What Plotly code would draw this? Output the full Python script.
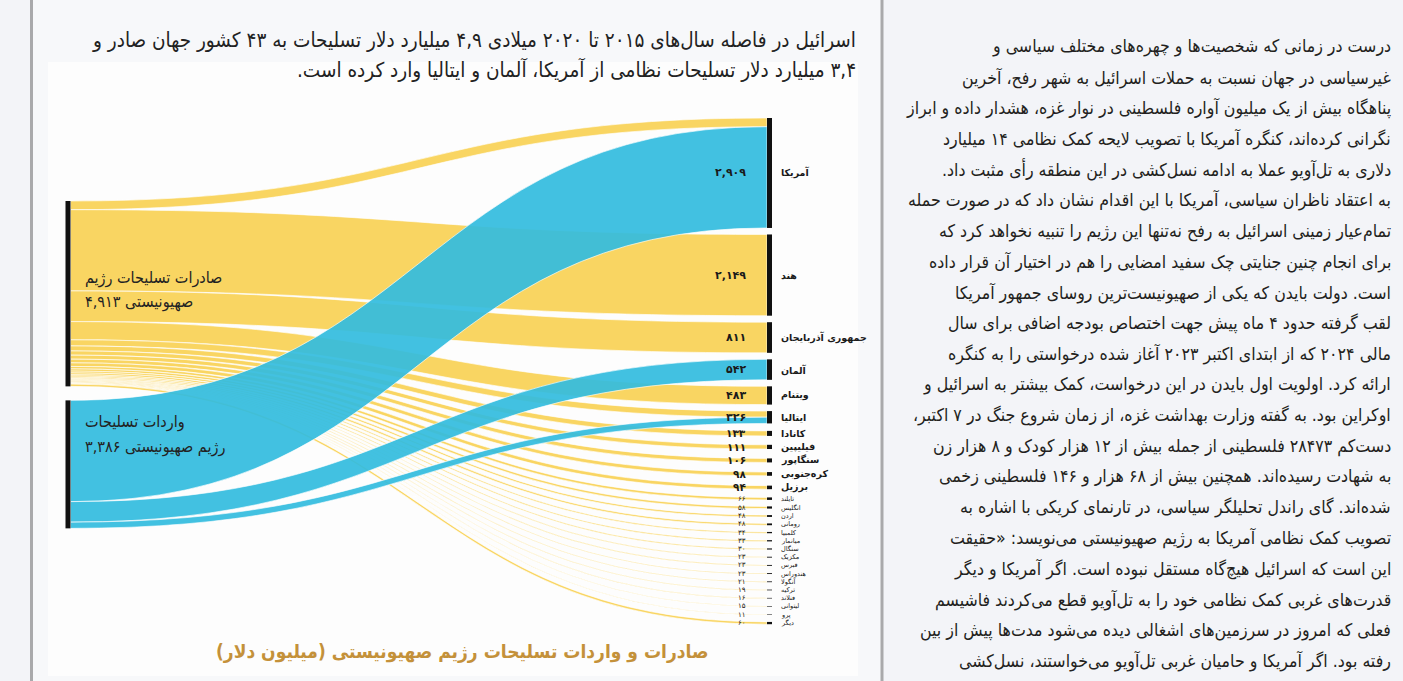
import plotly.graph_objects as go

# ---------------- data ----------------
countries = ["آمریکا", "هند", "جمهوری آذربایجان", "آلمان", "ویتنام", "ایتالیا", "کانادا",
             "فیلیپین", "سنگاپور", "کره‌جنوبی", "برزیل", "تایلند", "انگلیس", "اردن",
             "رومانی", "کلمبیا", "میانمار", "سنگال", "مکزیک", "قبرس", "هندوراس",
             "آنگولا", "ترکیه", "فنلاند", "لیتوانی", "پرو", "دیگر"]
country_totals = [2909, 2149, 811, 542, 483, 326, 133, 111, 106, 98, 94, 66, 58, 48,
                  48, 34, 33, 30, 23, 23, 23, 21, 19, 16, 15, 11, 60]
exports_to = [230, 2149, 811, 0, 483, 161, 133, 111, 106, 98, 94, 66, 58, 48,
              48, 34, 33, 30, 23, 23, 23, 21, 19, 16, 15, 11, 60]
imports_from = [2679, 0, 0, 542, 0, 165, 0, 0, 0, 0, 0, 0, 0, 0,
                0, 0, 0, 0, 0, 0, 0, 0, 0, 0, 0, 0, 0]
source_line1 = ["صادرات تسلیحات رژیم", "واردات تسلیحات"]
source_line2 = ["صهیونیستی", "رژیم صهیونیستی"]
source_totals = [4913, 3386]

header_lines = [
    "اسرائیل در فاصله سال‌های ۲۰۱۵ تا ۲۰۲۰ میلادی ۴,۹ میلیارد دلار تسلیحات به ۴۳ کشور جهان صادر و",
    "۳,۴ میلیارد دلار تسلیحات نظامی از آمریکا، آلمان و ایتالیا وارد کرده است.",
]
chart_title = "صادرات و واردات تسلیحات رژیم صهیونیستی (میلیون دلار)"
body_lines = [
    "درست در زمانی که شخصیت‌ها و چهره‌های مختلف سیاسی و",
    "غیرسیاسی در جهان نسبت به حملات اسرائیل به شهر رفح، آخرین",
    "پناهگاه بیش از یک میلیون آواره فلسطینی در نوار غزه، هشدار داده و ابراز",
    "نگرانی کرده‌اند، کنگره آمریکا با تصویب لایحه کمک نظامی ۱۴ میلیارد",
    "دلاری به تل‌آویو عملا به ادامه نسل‌کشی در این منطقه رأی مثبت داد.",
    "به اعتقاد ناظران سیاسی، آمریکا با این اقدام نشان داد که در صورت حمله",
    "تمام‌عیار زمینی اسرائیل به رفح نه‌تنها این رژیم را تنبیه نخواهد کرد که",
    "برای انجام چنین جنایتی چک سفید امضایی را هم در اختیار آن قرار داده",
    "است. دولت بایدن که یکی از صهیونیست‌ترین روسای جمهور آمریکا",
    "لقب گرفته حدود ۴ ماه پیش جهت اختصاص بودجه اضافی برای سال",
    "مالی ۲۰۲۴ که از ابتدای اکتبر ۲۰۲۳ آغاز شده درخواستی را به کنگره",
    "ارائه کرد. اولویت اول بایدن در این درخواست، کمک بیشتر به اسرائیل و",
    "اوکراین بود. به گفته وزارت بهداشت غزه، از زمان شروع جنگ در ۷ اکتبر،",
    "دست‌کم ۲۸۴۷۳ فلسطینی از جمله بیش از ۱۲ هزار کودک و ۸ هزار زن",
    "به شهادت رسیده‌اند. همچنین بیش از ۶۸ هزار و ۱۴۶ فلسطینی زخمی",
    "شده‌اند. گای راندل تحلیلگر سیاسی، در تارنمای کریکی با اشاره به",
    "تصویب کمک نظامی آمریکا به رژیم صهیونیستی می‌نویسد: «حقیقت",
    "این است که اسرائیل هیچ‌گاه مستقل نبوده است. اگر آمریکا و دیگر",
    "قدرت‌های غربی کمک نظامی خود را به تل‌آویو قطع می‌کردند فاشیسم",
    "فعلی که امروز در سرزمین‌های اشغالی دیده می‌شود مدت‌ها پیش از بین",
    "رفته بود. اگر آمریکا و حامیان غربی تل‌آویو می‌خواستند، نسل‌کشی",
    "این‌چنین در غزه به سرعت متوقف می‌شد.»",
]

# ---------------- helpers ----------------
W, H = 1403, 681
RLM = "\u200f"
FONT = "DejaVu Sans"
FONT_C = "DejaVu Sans Condensed, DejaVu Sans"


def fa(n):
    return f"{n:,}".translate(str.maketrans("0123456789", "۰۱۲۳۴۵۶۷۸۹"))


def rtl(s):
    return RLM + s + RLM


def py(px):  # pixel (from top) -> paper y
    return 1 - px / H


def pxx(px):
    return px / W


# ---------------- sankey geometry ----------------
top_px, bot_px = 118, 619
dom_left_px, dom_right_px = 60, 778
Hd = bot_px - top_px
Wd = dom_right_px - dom_left_px
thick = 5
n_c = len(countries)
node_vals = [e + i for e, i in zip(exports_to, imports_from)]

k = 0.0378                                   # px per million dollars
pad = (Hd - k * sum(node_vals)) / (n_c - 1)  # plotly pad that yields this scale


def size_class(t):
    return "big" if t >= 300 else ("mid" if t >= 90 else "small")


min_slot = {"big": 0, "mid": 13.5, "small": 8.2}
gap = 6.5
right_centers_px = []
cur = 0.0
for v, t in zip(node_vals, country_totals):
    h = v * k
    slot = max(h, min_slot[size_class(t)] - gap)
    right_centers_px.append(cur + slot / 2)
    cur += slot + gap

exp_h = sum(exports_to) * k
imp_h = sum(imports_from) * k
exp_top = 201 - top_px
exp_center = exp_top + exp_h / 2
imp_center = exp_top + exp_h + 14 + imp_h / 2

left_x = (68 - dom_left_px) / Wd
right_x = (769.5 - dom_left_px) / Wd

node_x = [left_x, left_x] + [right_x] * n_c
node_y = [exp_center / Hd, imp_center / Hd] + [c / Hd for c in right_centers_px]

src, tgt, val, col = [], [], [], []
for i, v in enumerate(exports_to):
    if v > 0:
        src.append(0); tgt.append(2 + i); val.append(v)
        col.append("rgba(248,204,64,0.82)")
for i, v in enumerate(imports_from):
    if v > 0:
        src.append(1); tgt.append(2 + i); val.append(v)
        col.append("rgba(50,188,222,0.92)")

fig = go.Figure(go.Sankey(
    arrangement="fixed",
    domain=dict(x=[dom_left_px / W, dom_right_px / W], y=[py(bot_px), py(top_px)]),
    node=dict(pad=pad, thickness=thick, color="#111111",
              line=dict(width=0),
              label=[""] * (2 + n_c), x=node_x, y=node_y,
              hoverinfo="none"),
    link=dict(source=src, target=tgt, value=val, color=col,
              line=dict(color="rgba(255,255,255,0.9)", width=0.7),
              hoverinfo="none"),
))

ann = []
val_size = {"big": 11, "mid": 10.5, "small": 7}
name_size = {"big": 9.5, "mid": 9.5, "small": 6.5}
for i, (name, tot) in enumerate(zip(countries, country_totals)):
    ycen = top_px + right_centers_px[i]
    c = size_class(tot)
    bold = c != "small"
    ann.append(dict(x=pxx(748), y=py(ycen), xref="paper", yref="paper",
                    xanchor="right", yanchor="middle", showarrow=False,
                    text=f"<b>{fa(tot)}</b>" if bold else fa(tot),
                    font=dict(family=FONT, size=val_size[c], color="#1a1a1a")))
    ann.append(dict(x=pxx(779), y=py(ycen), xref="paper", yref="paper",
                    xanchor="left", yanchor="middle", showarrow=False,
                    text=rtl(f"<b>{name}</b>" if bold else name),
                    font=dict(family=FONT, size=name_size[c], color="#1a1a1a")))

# left node labels
left_label_y = [(278, 302), (422, 447)]
for j in range(2):
    ann.append(dict(x=pxx(83), y=py(left_label_y[j][0]), xref="paper", yref="paper",
                    xanchor="left", yanchor="middle", showarrow=False,
                    text=rtl(source_line1[j]),
                    font=dict(family=FONT_C, size=16, color="#222222")))
    ann.append(dict(x=pxx(83), y=py(left_label_y[j][1]), xref="paper", yref="paper",
                    xanchor="left", yanchor="middle", showarrow=False,
                    text=rtl(source_line2[j] + " " + fa(source_totals[j])),
                    font=dict(family=FONT_C, size=16, color="#222222")))

# header
for j, line in enumerate(header_lines):
    ann.append(dict(x=pxx(858), y=py(40 + j * 29), xref="paper", yref="paper",
                    xanchor="right", yanchor="middle", showarrow=False,
                    text=rtl(line), font=dict(family=FONT_C, size=20.5, color="#222222")))

# chart title
ann.append(dict(x=pxx(462), y=py(651), xref="paper", yref="paper",
                xanchor="center", yanchor="middle", showarrow=False,
                text=rtl(f"<b>{chart_title}</b>"),
                font=dict(family=FONT_C, size=19, color="#c4913a")))

# body text
for j, line in enumerate(body_lines):
    ann.append(dict(x=pxx(1393), y=py(47 + j * 30.7), xref="paper", yref="paper",
                    xanchor="right", yanchor="middle", showarrow=False,
                    text=rtl(line), font=dict(family=FONT_C, size=17.6, color="#231f20")))

shapes = [
    dict(type="rect", xref="paper", yref="paper", x0=pxx(33), x1=pxx(881), y0=0, y1=1,
         fillcolor="#f7f8fa", line=dict(width=0), layer="below"),
    dict(type="rect", xref="paper", yref="paper", x0=pxx(48), x1=pxx(858),
         y0=py(676), y1=py(62), fillcolor="#fdfdfd", line=dict(width=0), layer="below"),
    dict(type="line", xref="paper", yref="paper", x0=pxx(31.5), x1=pxx(31.5), y0=0, y1=1,
         line=dict(color="#a9a9ab", width=3), layer="below"),
    dict(type="line", xref="paper", yref="paper", x0=pxx(882), x1=pxx(882), y0=0, y1=1,
         line=dict(color="#a9a9ab", width=3), layer="below"),
]

fig.update_layout(
    width=W, height=H, autosize=False,
    margin=dict(l=0, r=0, t=0, b=0),
    paper_bgcolor="#f3f4f8", plot_bgcolor="#f3f4f8",
    annotations=ann, shapes=shapes,
    font=dict(family=FONT),
)

fig.write_html("out.html", config={"displayModeBar": False},
               post_script="document.body.style.margin='0';document.body.style.overflow='hidden';")
